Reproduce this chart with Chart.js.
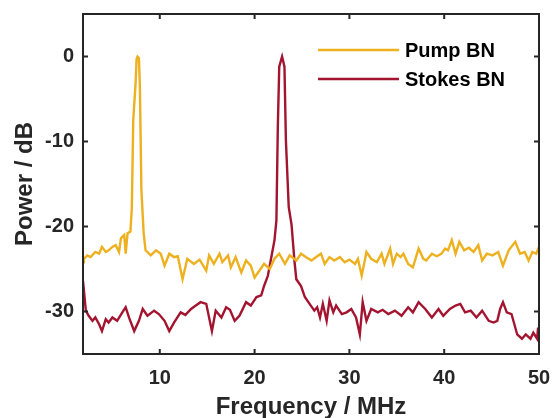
<!DOCTYPE html>
<html>
<head>
<meta charset="utf-8">
<script src="https://cdn.jsdelivr.net/npm/chart.js@4"></script>
<style>
  body { margin: 0; background: #fff; }
</style>
</head>
<body>
<canvas id="chart" width="552" height="418"></canvas>
<script>
// Pump BN (frequency in MHz, power in dB)
const pumpFreq = [1.9, 2.0, 2.35, 2.7, 3.2, 3.6, 3.9, 4.3, 4.6, 5.0, 5.35, 5.7, 5.9, 6.25, 6.4, 6.6, 6.9,
  7.05, 7.2, 7.45, 7.55, 7.65, 7.8, 7.9, 8.06, 8.3, 8.5,
  9.05, 9.6, 10.1, 10.5, 11.0, 11.5, 11.9, 12.4, 12.9, 13.6, 14.2, 14.9, 15.2, 15.7, 16.3, 16.6, 17.2, 17.5,
  18.0, 18.6, 19.1, 19.6, 20.0, 20.5, 21.0, 21.6, 22.1, 22.6, 23.2, 23.7, 24.4, 24.9, 25.4, 26.0, 26.5, 27.0,
  27.4, 27.9, 28.4, 29.0, 29.5, 30.0, 30.6, 30.9, 31.3, 31.8, 32.3, 32.9, 33.4, 33.7, 34.3, 34.6, 35.0, 35.4,
  35.7, 36.2, 36.7, 37.3, 37.8, 38.1, 38.7, 39.2, 39.7, 40.1, 40.4, 40.8, 41.2, 41.6, 42.1, 42.6, 43.1, 43.6,
  44.0, 44.5, 45.1, 45.7, 46.2, 46.8, 47.5, 48.0, 48.5, 48.9, 49.3, 49.7, 50.0];
const pumpPower = [-24.2, -23.8, -23.4, -23.6, -23.0, -23.2, -22.4, -23.0, -22.8, -22.4, -22.2, -23.0, -21.4, -21.0, -23.2, -20.8, -20.6,
  -17.8, -7.5, -3.1, -0.3, 0, -0.2, -3.5, -15.7, -20.8, -22.8,
  -23.4, -22.8, -23.2, -24.6, -23.2, -23.6, -23.5, -26.2, -23.8, -24.4, -23.9, -25.2, -23.4, -24.4, -23.2, -24.2, -23.4, -24.8,
  -23.6, -25.4, -24.0, -24.6, -26.0, -25.2, -24.4, -25.0, -23.8, -23.2, -24.4, -23.4, -24.0, -23.2, -23.6, -24.0, -23.6, -23.2,
  -24.4, -23.6, -24.0, -23.6, -24.2, -23.9, -24.4, -23.8, -25.8, -23.0, -23.8, -24.2, -23.2, -24.4, -22.6, -24.4, -23.2, -23.6,
  -23.2, -24.4, -24.8, -22.6, -23.8, -24.0, -23.2, -23.5, -23.2, -22.6, -22.8, -21.6, -23.2, -21.8, -22.8, -22.5, -23.0, -22.2,
  -24.0, -23.2, -23.4, -23.0, -24.6, -22.8, -21.8, -23.2, -23.0, -24.0, -23.0, -23.2, -22.4];

// Stokes BN
const stokesFreq = [1.9, 2.2, 2.5, 2.9, 3.2, 3.6, 3.9, 4.3, 4.6, 5.0, 5.5, 6.05, 6.4, 6.75, 7.3, 7.8, 8.2, 8.7, 9.4, 9.9,
  10.5, 11.0, 11.5, 12.2, 12.7, 13.3, 13.8, 14.3, 14.9, 15.2, 15.5, 15.9, 16.5, 17.0, 17.4, 17.9, 18.4, 19.1, 19.6,
  20.2, 20.7, 21.0, 21.4, 21.7, 22.1, 22.3, 22.45, 22.6, 22.9, 23.15, 23.3, 23.6, 23.9, 24.2, 24.4, 24.9, 25.3, 25.8,
  26.3, 26.6, 26.9, 27.2, 27.6, 27.9, 28.3, 28.6, 29.2, 29.7, 30.2, 30.7, 31.1, 31.4, 31.8, 32.3, 33.0, 33.5, 34.1,
  34.8, 35.5, 36.2, 36.7, 37.3, 38.0, 38.7, 39.4, 39.9, 40.6, 41.2, 41.7, 42.2, 42.8, 43.4, 44.0, 44.7, 45.2, 45.6,
  45.9, 46.2, 46.6, 47.1, 47.7, 48.2, 48.6, 49.1, 49.4, 49.8, 49.9, 50.0];
const stokesPower = [-26.4, -29.9, -30.5, -31.1, -30.7, -31.5, -32.3, -30.9, -31.3, -30.7, -31.1, -30.1, -29.5, -30.7, -32.3, -31.1, -29.7, -30.5, -29.9, -30.3,
  -31.1, -32.3, -31.3, -30.1, -30.4, -29.7, -29.3, -28.9, -29.1, -30.7, -32.3, -29.9, -30.7, -29.5, -29.8, -31.1, -30.5, -28.9, -29.3,
  -28.3, -28.1, -27.0, -25.8, -24.0, -21.6, -19.3, -8.3, -1.2, 0, -1.2, -9.8, -17.7, -19.8, -24.0, -26.2, -27.0, -28.3, -29.1,
  -29.9, -29.5, -30.7, -29.1, -31.1, -28.7, -30.1, -29.3, -30.3, -30.1, -29.7, -30.7, -32.7, -28.9, -31.1, -29.7, -30.1, -29.8, -30.3,
  -29.9, -30.5, -29.5, -30.1, -28.9, -29.7, -30.7, -29.7, -30.5, -29.7, -29.3, -29.1, -30.1, -29.9, -30.7, -29.9, -31.1, -31.3, -31.1,
  -29.7, -28.9, -30.1, -30.3, -32.7, -33.2, -32.7, -33.2, -32.5, -33.2, -31.9, -33.2];

const seriesLabels = ['Pump BN', 'Stokes BN'];
const seriesColors = ['#EDB120', '#A2142F'];
const xTicks = [10, 20, 30, 40, 50];
const yTicks = [-30, -20, -10, 0];

const axisColor = '#262626';
const fontFamily = '"Liberation Sans", Arial, sans-serif';

function toPoints(xs, ys) {
  return xs.map((x, i) => ({ x: x, y: ys[i] }));
}

// box round the plot with ticks pointing inwards (matlab style)
const framePlugin = {
  id: 'frame',
  afterDatasetsDraw(chart) {
    const { ctx, chartArea: a, scales } = chart;
    const len = 5;
    ctx.save();
    ctx.strokeStyle = axisColor;
    ctx.lineWidth = 2;
    ctx.beginPath();
    xTicks.forEach(v => {
      const px = scales.x.getPixelForValue(v);
      ctx.moveTo(px, a.bottom); ctx.lineTo(px, a.bottom - len);
      ctx.moveTo(px, a.top); ctx.lineTo(px, a.top + len);
    });
    yTicks.forEach(v => {
      const py = scales.y.getPixelForValue(v);
      ctx.moveTo(a.left, py); ctx.lineTo(a.left + len, py);
      ctx.moveTo(a.right, py); ctx.lineTo(a.right - len, py);
    });
    ctx.stroke();
    ctx.strokeRect(a.left, a.top, a.right - a.left, a.bottom - a.top);
    ctx.restore();
  }
};

// legend inside the plot, no box
const legendPlugin = {
  id: 'insideLegend',
  afterDraw(chart) {
    const ctx = chart.ctx;
    const x0 = 318, x1 = 399, tx = 405;
    const rows = [50, 79];
    ctx.save();
    ctx.font = 'bold 20px ' + fontFamily;
    ctx.textBaseline = 'middle';
    ctx.fillStyle = '#000';
    chart.data.datasets.forEach((ds, i) => {
      ctx.strokeStyle = ds.borderColor;
      ctx.lineWidth = 2.4;
      ctx.beginPath();
      ctx.moveTo(x0, rows[i]);
      ctx.lineTo(x1, rows[i]);
      ctx.stroke();
      ctx.fillText(ds.label, tx, rows[i] + 1);
    });
    ctx.restore();
  }
};

new Chart(document.getElementById('chart'), {
  type: 'line',
  data: {
    datasets: [
      {
        label: seriesLabels[0],
        data: toPoints(pumpFreq, pumpPower),
        borderColor: seriesColors[0],
        backgroundColor: seriesColors[0],
        borderWidth: 2.4,
        pointRadius: 0,
        tension: 0
      },
      {
        label: seriesLabels[1],
        data: toPoints(stokesFreq, stokesPower),
        borderColor: seriesColors[1],
        backgroundColor: seriesColors[1],
        borderWidth: 2.4,
        pointRadius: 0,
        tension: 0
      }
    ]
  },
  options: {
    responsive: false,
    animation: false,
    layout: { padding: { top: 14, right: 13, left: 0, bottom: 0 } },
    plugins: {
      legend: { display: false },
      tooltip: { enabled: false }
    },
    scales: {
      x: {
        type: 'linear',
        min: 1.9,
        max: 50,
        afterBuildTicks: s => { s.ticks = xTicks.map(v => ({ value: v })); },
        afterFit: s => { s.height = 64; s.paddingLeft = 0; s.paddingRight = 0; },
        grid: { display: false, drawTicks: false },
        border: { display: false },
        ticks: {
          padding: 12,
          color: axisColor,
          font: { family: fontFamily, size: 20, weight: 'bold' }
        },
        title: {
          display: true,
          text: 'Frequency / MHz',
          color: axisColor,
          padding: 0,
          font: { family: fontFamily, size: 24, weight: 'bold', lineHeight: 0.9 }
        }
      },
      y: {
        min: -35,
        max: 5,
        afterBuildTicks: s => { s.ticks = yTicks.map(v => ({ value: v })); },
        afterFit: s => { s.width = 83; s.paddingTop = 0; s.paddingBottom = 0; },
        grid: { display: false, drawTicks: false },
        border: { display: false },
        ticks: {
          padding: 9,
          color: axisColor,
          font: { family: fontFamily, size: 20, weight: 'bold' }
        },
        title: {
          display: true,
          text: 'Power / dB',
          color: axisColor,
          padding: { top: 11, bottom: 0 },
          font: { family: fontFamily, size: 24, weight: 'bold', lineHeight: 1.2 }
        }
      }
    }
  },
  plugins: [framePlugin, legendPlugin]
});
</script>
</body>
</html>
